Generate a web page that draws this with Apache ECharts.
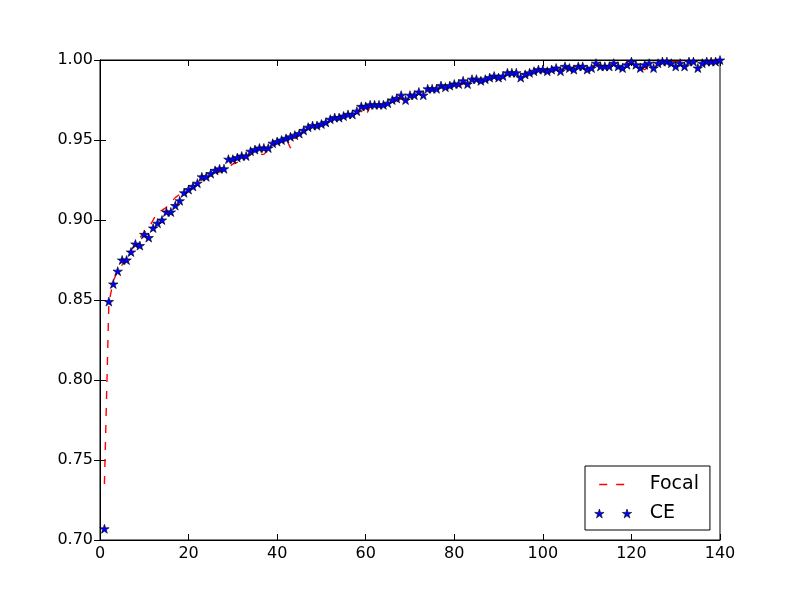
<!DOCTYPE html>
<html>
<head>
<meta charset="utf-8">
<script src="https://cdn.jsdelivr.net/npm/echarts@6/dist/echarts.min.js"></script>
<style>
  html, body { margin: 0; padding: 0; background: #fff; }
  #chart { width: 800px; height: 600px; }
</style>
</head>
<body>
<div id="chart"></div>
<script>
// epochs 1..140
const epochs = [];
for (let i = 1; i <= 140; i++) epochs.push(i);

const ceValues = [
  0.707, 0.849, 0.860, 0.868, 0.875, 0.875, 0.880, 0.885, 0.884, 0.891,
  0.889, 0.895, 0.898, 0.900, 0.905, 0.905, 0.909, 0.912, 0.917, 0.919,
  0.921, 0.923, 0.927, 0.927, 0.929, 0.931, 0.932, 0.932, 0.938, 0.938,
  0.939, 0.940, 0.940, 0.943, 0.944, 0.945, 0.945, 0.945, 0.948, 0.949,
  0.950, 0.951, 0.952, 0.953, 0.954, 0.956, 0.958, 0.959, 0.959, 0.960,
  0.961, 0.963, 0.964, 0.964, 0.965, 0.966, 0.966, 0.968, 0.971, 0.971,
  0.972, 0.972, 0.972, 0.972, 0.973, 0.975, 0.976, 0.978, 0.975, 0.978,
  0.978, 0.980, 0.978, 0.982, 0.982, 0.982, 0.984, 0.983, 0.984, 0.985,
  0.985, 0.987, 0.985, 0.988, 0.988, 0.987, 0.988, 0.989, 0.990, 0.989,
  0.990, 0.992, 0.992, 0.992, 0.989, 0.991, 0.992, 0.993, 0.994, 0.994,
  0.993, 0.994, 0.995, 0.993, 0.996, 0.995, 0.994, 0.996, 0.996, 0.994,
  0.995, 0.998, 0.996, 0.996, 0.996, 0.998, 0.996, 0.995, 0.997, 0.999,
  0.997, 0.995, 0.997, 0.998, 0.995, 0.998, 0.999, 0.999, 0.998, 0.996,
  0.998, 0.996, 0.999, 0.999, 0.995, 0.998, 0.999, 0.999, 0.999, 1.000
];

const focalValues = [
  0.735, 0.848, 0.862, 0.868, 0.872, 0.877, 0.881, 0.885, 0.889, 0.892,
  0.895, 0.900, 0.905, 0.906, 0.908, 0.911, 0.914, 0.916, 0.918, 0.919,
  0.920, 0.923, 0.925, 0.926, 0.927, 0.929, 0.930, 0.932, 0.933, 0.935,
  0.936, 0.938, 0.940, 0.941, 0.942, 0.941, 0.941, 0.944, 0.946, 0.948,
  0.950, 0.951, 0.945, 0.951, 0.953, 0.955, 0.957, 0.958, 0.958, 0.959,
  0.960, 0.962, 0.963, 0.965, 0.964, 0.965, 0.966, 0.967, 0.968, 0.965,
  0.971, 0.972, 0.972, 0.972, 0.973, 0.973, 0.974, 0.976, 0.976, 0.977,
  0.977, 0.979, 0.979, 0.980, 0.981, 0.981, 0.982, 0.982, 0.983, 0.984,
  0.984, 0.985, 0.986, 0.987, 0.987, 0.987, 0.988, 0.988, 0.989, 0.989,
  0.990, 0.991, 0.991, 0.991, 0.990, 0.991, 0.991, 0.992, 0.993, 0.993,
  0.994, 0.994, 0.995, 0.994, 0.995, 0.995, 0.995, 0.996, 0.996, 0.996,
  0.996, 0.997, 0.997, 0.997, 0.997, 0.998, 0.998, 0.999, 0.998, 0.998,
  0.997, 0.995, 0.994, 0.996, 0.996, 0.997, 0.998, 0.998, 0.999, 0.999,
  0.999, 0.999, 0.999, 0.999, 0.999, 0.999, 0.999, 1.000, 1.000, 1.000
];

const xTicks = { min: 0, max: 140, interval: 20 };
const yTicks = { min: 0.70, max: 1.00, interval: 0.05 };

// 5-point star, centred on (cx, cy), outer radius 5
function starPath(cx, cy) {
  const pts = [
    [0, -5], [1.123, -1.545], [4.755, -1.545], [1.816, 0.59], [2.939, 4.045],
    [0, 1.91], [-2.939, 4.045], [-1.816, 0.59], [-4.755, -1.545], [-1.123, -1.545]
  ];
  return pts.map((p, i) => (i ? 'L' : 'M') + (p[0] + cx).toFixed(3) + ',' + (p[1] + cy).toFixed(3)).join(' ') + ' Z';
}
const starSymbol = 'path://' + starPath(0, 0);
const twoStarIcon = 'path://' + starPath(4.755, 5) + ' ' + starPath(32.755, 5);

const font = 'DejaVu Sans';

const chart = echarts.init(document.getElementById('chart'), null, { renderer: 'canvas' });

const tickStyle = { show: true, inside: true, length: 6, lineStyle: { color: '#000', width: 1 } };

chart.setOption({
  animation: false,
  backgroundColor: '#fff',
  grid: {
    left: 100, right: 80, top: 60, bottom: 60,
    show: true, borderColor: '#000', borderWidth: 1, backgroundColor: '#fff'
  },
  legend: {
    left: 585, top: 466,
    orient: 'vertical',
    padding: [9, 11, 7, 9],
    itemGap: 10,
    itemWidth: 37, itemHeight: 9,
    backgroundColor: '#fff',
    borderColor: '#000', borderWidth: 1, borderRadius: 0,
    textStyle: { fontFamily: font, fontSize: 19, color: '#000', padding: [0, 0, 0, 13] },
    data: [
      {
        name: 'Focal',
        // line series always adds a marker to its legend icon; hide it
        itemStyle: { color: 'rgba(0,0,0,0)', borderWidth: 0, opacity: 0 },
        lineStyle: { dashOffset: 12.5, type: [8, 9], color: '#ff0000', width: 1.4 }
      },
      { name: 'CE', icon: twoStarIcon, itemStyle: { color: '#0000ff', borderColor: '#000', borderWidth: 0.6 } }
    ]
  },
  xAxis: [
    {
      type: 'value', min: xTicks.min, max: xTicks.max, interval: xTicks.interval,
      axisLine: { show: true, lineStyle: { color: '#000' } },
      axisTick: tickStyle,
      splitLine: { show: false },
      axisLabel: { fontFamily: font, fontSize: 16, color: '#000', margin: 6 }
    },
    {
      type: 'value', position: 'top', min: xTicks.min, max: xTicks.max, interval: xTicks.interval,
      axisLine: { show: true, lineStyle: { color: '#000' } },
      axisTick: tickStyle,
      splitLine: { show: false },
      axisLabel: { show: false }
    }
  ],
  yAxis: [
    {
      type: 'value', min: yTicks.min, max: yTicks.max, interval: yTicks.interval,
      axisLine: { show: true, lineStyle: { color: '#000' } },
      axisTick: tickStyle,
      splitLine: { show: false },
      axisLabel: { fontFamily: font, fontSize: 16, color: '#000', margin: 7, formatter: v => v.toFixed(2) }
    },
    {
      type: 'value', position: 'right', min: yTicks.min, max: yTicks.max, interval: yTicks.interval,
      axisLine: { show: true, lineStyle: { color: '#000' } },
      axisTick: tickStyle,
      splitLine: { show: false },
      axisLabel: { show: false }
    }
  ],
  series: [
    {
      name: 'Focal',
      type: 'line',
      data: epochs.map((e, i) => [e, focalValues[i]]),
      symbol: 'none',
      color: '#ff0000',
      lineStyle: { color: '#ff0000', width: 1.4, type: [8, 9] },
      z: 2
    },
    {
      name: 'CE',
      type: 'scatter',
      data: epochs.map((e, i) => [e, ceValues[i]]),
      symbol: starSymbol,
      symbolSize: [9.5, 9],
      color: '#0000ff',
      itemStyle: { color: '#0000ff', borderColor: '#000', borderWidth: 0.6, opacity: 1 },
      z: 3
    }
  ]
});
</script>
</body>
</html>
